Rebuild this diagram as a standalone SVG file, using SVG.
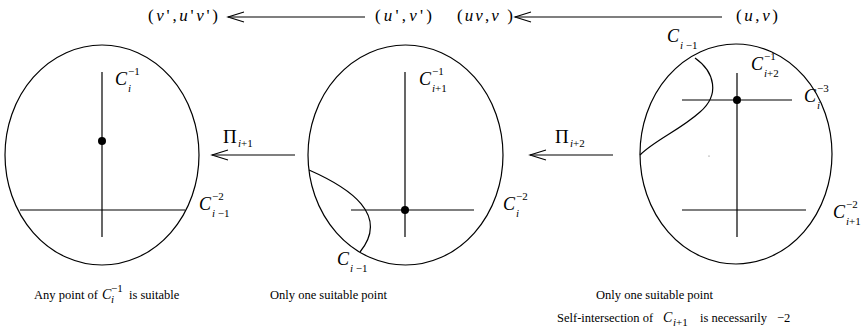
<svg xmlns="http://www.w3.org/2000/svg" width="867" height="332" viewBox="0 0 867 332" font-family="'Liberation Serif', 'DejaVu Serif', serif">
<style>
  .ln{stroke:#000;stroke-width:1.2;fill:none}
  .el{stroke:#000;stroke-width:1.2;fill:none}
  .dot{fill:#000}
  text, tspan{font-family:'Liberation Serif','DejaVu Serif',serif}
  text{fill:#000}
  .C{font-size:18px;font-style:italic}
  .s{font-size:11px}
  .it{font-style:italic}
  .cap{font-size:12.5px}
  .Cs{font-size:14px;font-style:italic}
  .top{font-size:17px}
  .pi{font-size:19px}
</style>
<defs>
  <marker id="open" markerUnits="userSpaceOnUse" markerWidth="20" markerHeight="14" refX="0" refY="7" orient="auto" viewBox="-18 0 20 14">
    <path d="M-16,2 L0,7 L-16,12" fill="none" stroke="#000" stroke-width="1.1"/>
  </marker>
</defs>

<g id="top-vu">
  <text class="top" x="148" y="21" textLength="70" lengthAdjust="spacing">(<tspan class="it">v</tspan>',<tspan class="it">u</tspan>'<tspan class="it">v</tspan>')</text>
</g>
<g id="top-uv1">
  <text class="top" x="375" y="21" textLength="57" lengthAdjust="spacing">(<tspan class="it">u</tspan>',<tspan class="it">v</tspan>')</text>
</g>
<g id="top-uvv">
  <text class="top" x="457" y="21" textLength="56" lengthAdjust="spacing">(<tspan class="it">uv</tspan>,<tspan class="it">v</tspan> )</text>
</g>
<g id="top-uv">
  <text class="top" x="736" y="21" textLength="42" lengthAdjust="spacing">(<tspan class="it">u</tspan>,<tspan class="it">v</tspan>)</text>
</g>

<g id="left-diagram">
  <ellipse class="el" cx="102" cy="155" rx="97" ry="110"/>
  <line class="ln" x1="102" y1="72" x2="102" y2="237"/>
  <line class="ln" x1="20" y1="210" x2="185" y2="210"/>
  <circle class="dot" cx="102" cy="141" r="4"/>
  <text class="C" x="115" y="85">C</text><text class="s it" x="128" y="92">i</text><text class="s" x="128" y="75">−1</text>
  <text class="C" x="199" y="210">C</text><text class="s" x="212" y="217"><tspan class="it">i</tspan> −1</text><text class="s" x="212" y="200">−2</text>
</g>

<g id="middle-diagram">
  <ellipse class="el" cx="405.5" cy="155" rx="97.5" ry="110"/>
  <line class="ln" x1="405" y1="72" x2="405" y2="237"/>
  <line class="ln" x1="351" y1="210" x2="474" y2="210"/>
  <circle class="dot" cx="405" cy="210" r="4"/>
  <path class="ln" d="M309,170 C350,188 390,215 360,252"/>
  <text class="C" x="419" y="85">C</text><text class="s" x="432" y="92"><tspan class="it">i</tspan>+1</text><text class="s" x="432" y="75">−1</text>
  <text class="C" x="503" y="210">C</text><text class="s it" x="516" y="217">i</text><text class="s" x="516" y="200">−2</text>
  <text class="C" x="337" y="265">C</text><text class="s" x="350" y="272"><tspan class="it">i</tspan> −1</text>
</g>

<g id="right-diagram">
  <ellipse class="el" cx="736" cy="154" rx="96" ry="110"/>
  <line class="ln" x1="737" y1="73" x2="737" y2="237"/>
  <line class="ln" x1="682" y1="100" x2="792" y2="100"/>
  <line class="ln" x1="682" y1="210" x2="806" y2="210"/>
  <circle class="dot" cx="737" cy="100" r="4"/>
  <path class="ln" d="M695,58 C715,72 720,95 700,112 C680,130 655,140 640,155"/>
  <circle cx="709" cy="156" r="0.6" fill="#666"/>
  <text class="C" x="667" y="42">C</text><text class="s" x="680" y="49"><tspan class="it">i</tspan> −1</text>
  <text class="C" x="751" y="70">C</text><text class="s" x="764" y="77"><tspan class="it">i</tspan>+2</text><text class="s" x="764" y="60">−1</text>
  <text class="C" x="804" y="102">C</text><text class="s it" x="817" y="109">i</text><text class="s" x="817" y="92">−3</text>
  <text class="C" x="833" y="218">C</text><text class="s" x="846" y="225"><tspan class="it">i</tspan>+1</text><text class="s" x="846" y="208">−2</text>
</g>

<g id="pi1">
  <text class="pi" x="223" y="143">Π</text><text class="s" x="238" y="147"><tspan class="it">i</tspan>+1</text>
</g>
<g id="pi2">
  <text class="pi" x="555" y="143">Π</text><text class="s" x="570" y="147"><tspan class="it">i</tspan>+2</text>
</g>

<g id="connectors">
  <line class="ln" x1="365" y1="17" x2="228" y2="17" marker-end="url(#open)"/>
  <line class="ln" x1="722" y1="17" x2="515" y2="17" marker-end="url(#open)"/>
  <line class="ln" x1="295" y1="155" x2="212" y2="155" marker-end="url(#open)"/>
  <line class="ln" x1="613" y1="155" x2="530" y2="155" marker-end="url(#open)"/>
</g>

<g id="captions">
  <text class="cap" x="34" y="299">Any point of</text>
  <text class="Cs" x="102" y="299">C</text><text class="s it" x="111" y="303" font-size="9">i</text><text class="s" x="111" y="292" font-size="9">−1</text>
  <text class="cap" x="129" y="299">is suitable</text>
  <text class="cap" x="270" y="299">Only one suitable point</text>
  <text class="cap" x="596" y="299">Only one suitable point</text>
  <text class="cap" x="557" y="322">Self-intersection of</text>
  <text class="Cs" x="663" y="322">C</text><text class="s" x="673" y="326" font-size="10"><tspan class="it">i</tspan>+1</text>
  <text class="cap" x="700" y="322">is necessarily</text>
  <text class="cap" x="777" y="322">−2</text>
</g>
</svg>
